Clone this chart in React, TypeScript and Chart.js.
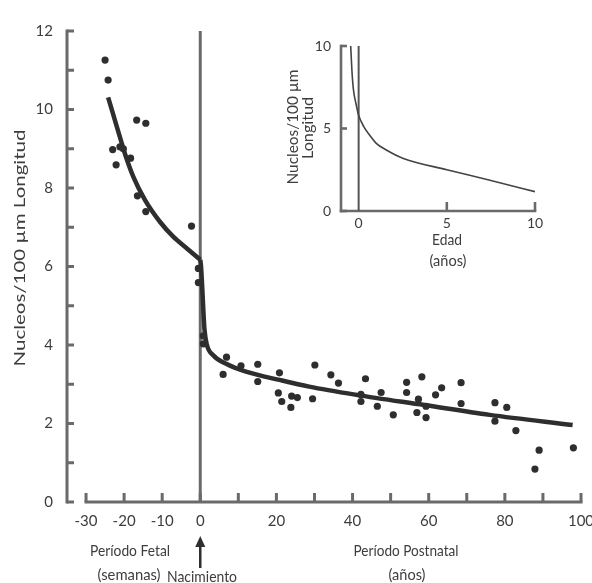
import React, { useEffect, useRef } from 'react';
import { Chart, registerables } from 'chart.js';

Chart.register(...registerables);

// ---------- DATA ----------
// Fetal period (weeks before birth, negative) — measured points
const fetalWeeks = [-25.0, -24.2, -16.7, -14.3, -23.0, -21.1, -20.2, -18.3, -22.1, -16.5, -14.3, -2.3, -0.5, -0.5];
const fetalNuclei = [11.26, 10.75, 9.73, 9.65, 8.98, 9.05, 9.0, 8.76, 8.59, 7.8, 7.4, 7.03, 5.95, 5.59];

// Postnatal period (years) — measured points
const postnatalYears = [
  0.8, 0.8, 6.9, 6.0, 10.7, 15.1, 15.1, 20.8, 20.5, 21.4, 24.0, 25.5, 23.8, 29.5, 30.1, 34.3, 36.3,
  43.4, 42.2, 42.2, 47.5, 46.5, 50.7, 54.2, 54.2, 58.2, 57.3, 56.9, 59.3, 59.3, 61.8, 63.4, 68.5,
  68.5, 77.4, 77.4, 80.5, 82.9, 89.0, 87.9, 98.0,
];
const postnatalNuclei = [
  4.23, 4.03, 3.69, 3.25, 3.47, 3.51, 3.07, 3.29, 2.78, 2.56, 2.7, 2.66, 2.41, 2.63, 3.49, 3.24, 3.03,
  3.14, 2.74, 2.56, 2.79, 2.44, 2.22, 3.05, 2.79, 3.19, 2.62, 2.28, 2.44, 2.15, 2.73, 2.91, 3.04,
  2.51, 2.53, 2.06, 2.41, 1.82, 1.32, 0.84, 1.38,
];

// Fitted curve — fetal segment and postnatal segment
const fitFetalX = [-24.2, -21.9, -19.8, -17.6, -14.5, -10.6, -7.1, -3.5, 0];
const fitFetalY = [10.31, 9.56, 8.88, 8.29, 7.69, 7.14, 6.76, 6.46, 6.17];
const fitPostX = [0, 0.2, 0.5, 0.8, 1.1, 1.7, 3.4, 6.8, 12, 20.8, 28.6, 41, 58.8, 76, 97.8];
const fitPostY = [6.17, 6.0, 5.5, 4.9, 4.4, 4.02, 3.74, 3.52, 3.32, 3.11, 2.94, 2.73, 2.47, 2.22, 1.96];

// Inset curve (age in years)
const insetX = [-0.45, -0.38, -0.3, -0.15, 0, 0.3, 0.62, 1.0, 1.57, 2.5, 5, 7.5, 10];
const insetY = [10, 8.5, 7.4, 6.5, 5.8, 5.1, 4.6, 4.1, 3.7, 3.2, 2.5, 1.85, 1.17];

// Ticks
const xTicks = [-30, -20, -10, 0, 20, 40, 60, 80, 100];
const xTickMarks = [-30, -20, -10, 0, 10, 20, 30, 40, 50, 60, 70, 80, 90, 100];
const yTicks = [0, 2, 4, 6, 8, 10, 12];
const yTickMarks = [0, 1, 2, 3, 4, 5, 6, 7, 8, 9, 10, 11, 12];
const insetXTicks = [0, 5, 10];
const insetXTickMarks = [5, 10];
const insetYTicks = [0, 5, 10];

// Text
const yTitle = 'Nucleos/100 µm Longitud';
const fetalLabel = 'Período Fetal';
const fetalUnit = '(semanas)';
const birthLabel = 'Nacimiento';
const postLabel = 'Período Postnatal';
const postUnit = '(años)';
const insetTitle1 = 'Nucleos/100 µm';
const insetTitle2 = 'Longitud';
const insetXLabel = 'Edad';
const insetXUnit = '(años)';

// ---------- STYLE ----------
const FONT = 'Lato, "Open Sans", sans-serif';
const TEXT = '#3d3d3d';
const AXIS = '#6a6a6a';
const INK = '#2e2e2e';

// draws text centred on (cx, cy), stretched along its baseline to the given width
function fitText(ctx: CanvasRenderingContext2D, text: string, cx: number, cy: number, width: number) {
  const w = ctx.measureText(text).width;
  let k = width / w;
  k = Math.max(0.8, Math.min(1.4, k));
  ctx.save();
  ctx.translate(cx, cy);
  ctx.scale(k, 1);
  ctx.textAlign = 'center';
  ctx.textBaseline = 'middle';
  ctx.fillText(text, 0, 0);
  ctx.restore();
}

function seg(ctx: CanvasRenderingContext2D, x1: number, y1: number, x2: number, y2: number) {
  ctx.beginPath();
  ctx.moveTo(x1, y1);
  ctx.lineTo(x2, y2);
  ctx.stroke();
}

const mainDecor = {
  id: 'mainDecor',
  beforeDatasetsDraw(chart: any) {
    const { ctx, scales } = chart;
    const x = scales.x;
    const y = scales.y;
    ctx.save();
    ctx.strokeStyle = AXIS;
    ctx.lineWidth = 3;
    ctx.lineCap = 'butt';
    const left = chart.chartArea.left;
    const y0 = y.getPixelForValue(0);
    const y12 = y.getPixelForValue(12);
    // y axis
    seg(ctx, left, y12 - 1.5, left, y0 + 1.5);
    yTickMarks.forEach((v) => {
      const p = y.getPixelForValue(v);
      seg(ctx, left, p, left + 7, p);
    });
    // x axis
    const xa = x.getPixelForValue(-30);
    const xb = x.getPixelForValue(100);
    seg(ctx, xa - 1.5, y0, xb + 1.5, y0);
    xTickMarks.forEach((v) => {
      const p = x.getPixelForValue(v);
      seg(ctx, p, y0, p, y0 - 9);
    });
    // birth line
    const x0 = x.getPixelForValue(0);
    seg(ctx, x0, y12, x0, y0);
    ctx.restore();
  },
  afterDraw(chart: any) {
    const { ctx, scales } = chart;
    const x = scales.x;
    ctx.save();
    ctx.fillStyle = TEXT;
    // y title
    ctx.save();
    ctx.translate(20, 248);
    ctx.rotate(-Math.PI / 2);
    ctx.font = `16px ${FONT}`;
    fitText(ctx, yTitle, 0, 0, 237);
    ctx.restore();
    ctx.font = `15px ${FONT}`;
    fitText(ctx, fetalLabel, 130, 551, 80);
    fitText(ctx, fetalUnit, 129, 575, 63);
    fitText(ctx, birthLabel, 202, 577, 70);
    fitText(ctx, postLabel, 406, 551, 105);
    fitText(ctx, postUnit, 407, 575, 37);
    // arrow
    const x0 = x.getPixelForValue(0);
    ctx.strokeStyle = INK;
    ctx.fillStyle = INK;
    ctx.lineWidth = 2.5;
    seg(ctx, x0, 545, x0, 568);
    ctx.beginPath();
    ctx.moveTo(x0, 536);
    ctx.lineTo(x0 - 5, 547);
    ctx.lineTo(x0 + 5, 547);
    ctx.closePath();
    ctx.fill();
    ctx.restore();
  },
};

const insetDecor = {
  id: 'insetDecor',
  beforeDatasetsDraw(chart: any) {
    const { ctx, scales } = chart;
    const x = scales.x;
    const y = scales.y;
    ctx.save();
    ctx.strokeStyle = AXIS;
    ctx.lineWidth = 2.6;
    const left = chart.chartArea.left;
    const right = x.getPixelForValue(10);
    const y0 = y.getPixelForValue(0);
    const y10 = y.getPixelForValue(10);
    seg(ctx, left, y10 - 1.3, left, y0 + 1.3);
    seg(ctx, left - 1.3, y0, right + 1.3, y0);
    insetYTicks.forEach((v) => {
      const p = y.getPixelForValue(v);
      seg(ctx, left, p, left + 6, p);
    });
    insetXTickMarks.forEach((v) => {
      const p = x.getPixelForValue(v);
      seg(ctx, p, y0, p, y0 - 9);
    });
    ctx.strokeStyle = '#555';
    ctx.lineWidth = 2;
    const x0 = x.getPixelForValue(0);
    seg(ctx, x0, y10, x0, y0);
    ctx.restore();
  },
  afterDraw(chart: any) {
    const { ctx } = chart;
    ctx.save();
    ctx.fillStyle = TEXT;
    ctx.font = `15px ${FONT}`;
    ctx.save();
    ctx.translate(23, 107);
    ctx.rotate(-Math.PI / 2);
    fitText(ctx, insetTitle1, 0, 0, 115);
    ctx.restore();
    ctx.save();
    ctx.translate(38, 108);
    ctx.rotate(-Math.PI / 2);
    fitText(ctx, insetTitle2, 0, 0, 62);
    ctx.restore();
    fitText(ctx, insetXLabel, 177, 220, 30);
    fitText(ctx, insetXUnit, 178, 241, 37);
    ctx.restore();
  },
};

export default function App() {
  const mainRef = useRef<HTMLCanvasElement>(null);
  const insetRef = useRef<HTMLCanvasElement>(null);

  useEffect(() => {
    if (!mainRef.current || !insetRef.current) return;
    const dots = [
      ...fetalWeeks.map((v, i) => ({ x: v, y: fetalNuclei[i] })),
      ...postnatalYears.map((v, i) => ({ x: v, y: postnatalNuclei[i] })),
    ];
    const lineStyle = {
      showLine: true,
      borderColor: INK,
      borderWidth: 4.5,
      pointRadius: 0,
      cubicInterpolationMode: 'monotone',
      order: 2,
    };
    const tickFont = { family: FONT, size: 15 };

    const main = new Chart(mainRef.current, {
      type: 'scatter',
      data: {
        datasets: [
          { ...lineStyle, data: fitFetalX.map((v, i) => ({ x: v, y: fitFetalY[i] })) } as any,
          { ...lineStyle, data: fitPostX.map((v, i) => ({ x: v, y: fitPostY[i] })) } as any,
          {
            data: dots,
            backgroundColor: INK,
            borderColor: INK,
            borderWidth: 0,
            pointRadius: 3.6,
            order: 1,
          },
        ],
      },
      options: {
        animation: false,
        responsive: true,
        maintainAspectRatio: false,
        layout: { padding: { top: 31, right: 11, left: 0, bottom: 0 } },
        plugins: { legend: { display: false }, tooltip: { enabled: false } },
        scales: {
          x: {
            type: 'linear',
            min: -35,
            max: 100,
            afterBuildTicks: (s: any) => {
              s.ticks = xTicks.map((v) => ({ value: v }));
            },
            afterFit: (s: any) => {
              s.height = 81;
              s.paddingLeft = 0;
              s.paddingRight = 0;
            },
            grid: { display: false, drawTicks: false },
            border: { display: false },
            ticks: { padding: 10, color: TEXT, font: tickFont, maxRotation: 0, autoSkip: false },
          },
          y: {
            type: 'linear',
            min: 0,
            max: 12,
            afterBuildTicks: (s: any) => {
              s.ticks = yTicks.map((v) => ({ value: v }));
            },
            afterFit: (s: any) => {
              s.width = 67;
              s.paddingTop = 0;
              s.paddingBottom = 0;
            },
            grid: { display: false, drawTicks: false },
            border: { display: false },
            ticks: { padding: 14, color: TEXT, font: tickFont },
          },
        },
      },
      plugins: [mainDecor],
    });

    const inset = new Chart(insetRef.current, {
      type: 'scatter',
      data: {
        datasets: [
          {
            data: insetX.map((v, i) => ({ x: v, y: insetY[i] })),
            showLine: true,
            borderColor: '#444',
            borderWidth: 1.6,
            pointRadius: 0,
            cubicInterpolationMode: 'monotone',
          } as any,
        ],
      },
      options: {
        animation: false,
        responsive: true,
        maintainAspectRatio: false,
        layout: { padding: { top: 26, right: 35, left: 0, bottom: 0 } },
        plugins: { legend: { display: false }, tooltip: { enabled: false } },
        scales: {
          x: {
            type: 'linear',
            min: -1,
            max: 10,
            afterBuildTicks: (s: any) => {
              s.ticks = insetXTicks.map((v) => ({ value: v }));
            },
            afterFit: (s: any) => {
              s.height = 69;
              s.paddingLeft = 0;
              s.paddingRight = 0;
            },
            grid: { display: false, drawTicks: false },
            border: { display: false },
            ticks: { padding: 4, color: TEXT, font: { family: FONT, size: 14 }, maxRotation: 0, autoSkip: false },
          },
          y: {
            type: 'linear',
            min: 0,
            max: 10,
            afterBuildTicks: (s: any) => {
              s.ticks = insetYTicks.map((v) => ({ value: v }));
            },
            afterFit: (s: any) => {
              s.width = 71;
              s.paddingTop = 0;
              s.paddingBottom = 0;
            },
            grid: { display: false, drawTicks: false },
            border: { display: false },
            ticks: { padding: 10, color: TEXT, font: { family: FONT, size: 14 } },
          },
        },
      },
      plugins: [insetDecor],
    });

    return () => {
      main.destroy();
      inset.destroy();
    };
  }, []);

  return (
    <div style={{ position: 'absolute', left: 0, top: 0, width: 592, height: 583, background: '#fff', overflow: 'hidden' }}>
      <div style={{ position: 'absolute', left: 0, top: 0, width: 592, height: 583 }}>
        <canvas ref={mainRef} />
      </div>
      <div style={{ position: 'absolute', left: 270, top: 20, width: 300, height: 260 }}>
        <canvas ref={insetRef} />
      </div>
    </div>
  );
}
